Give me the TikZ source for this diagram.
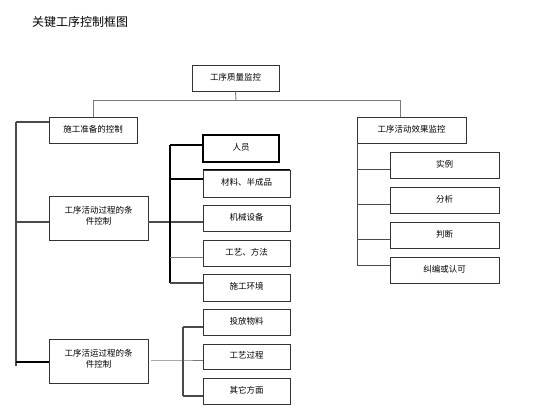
\documentclass[tikz,border=0pt]{standalone}
\usepackage{fontspec}
\setmainfont{Noto Sans CJK SC}
\usetikzlibrary{calc}
\definecolor{boxc}{HTML}{333333}
\definecolor{linec}{HTML}{7A7A7A}
\definecolor{darkc}{HTML}{4A4A4A}
\begin{document}
\begin{tikzpicture}[x=1pt,y=-1pt,
  box/.style={draw=boxc, line width=0.7pt, inner sep=0pt, font=\fontsize{8.5}{11}\selectfont, align=center, text depth=2.5pt},
  gline/.style={draw=linec, line width=0.9pt},
  dline/.style={draw=darkc, line width=1.1pt},
  bline/.style={draw=black, line width=1.5pt},
]
\useasboundingbox (0,0) rectangle (533,419);
\node[font=\fontsize{12}{14}\selectfont] (title) at (80,22) {关键工序控制框图};

% boxes
\node[box, minimum width=87pt, minimum height=26pt] (top) at (235.5,78) {工序质量监控};
\node[box, minimum width=88pt, minimum height=26pt] (prep) at (93,130) {施工准备的控制};
\node[box, minimum width=109pt, minimum height=26pt] (eff) at (411.5,130) {工序活动效果监控};
\node[box, minimum width=99pt, minimum height=44pt, text depth=6pt] (proc) at (98.5,218) {工序活动过程的条\\件控制};
\node[box, minimum width=99pt, minimum height=44pt, text depth=6pt] (run) at (98.5,361) {工序活运过程的条\\件控制};

\node[box, draw=black, line width=1.5pt, minimum width=76pt, minimum height=27pt] (renyuan) at (241,148.5) {人员};
\node[box, minimum width=87pt, minimum height=27pt] (cailiao) at (246.5,183.5) {材料、半成品};
\node[box, minimum width=87pt, minimum height=26pt] (jixie) at (246.5,218) {机械设备};
\node[box, minimum width=87pt, minimum height=26pt] (gongyi) at (246.5,253) {工艺、方法};
\node[box, minimum width=87pt, minimum height=27pt] (huanjing) at (246.5,287.5) {施工环境};
\node[box, minimum width=87pt, minimum height=26pt] (toufang) at (246.5,322) {投放物料};
\node[box, minimum width=87pt, minimum height=25pt] (guocheng) at (246.5,356.5) {工艺过程};
\node[box, minimum width=87pt, minimum height=26pt] (qita) at (246.5,391) {其它方面};

\node[box, minimum width=109pt, minimum height=26pt] (shili) at (444.5,165) {实例};
\node[box, minimum width=109pt, minimum height=26pt] (fenxi) at (444.5,200) {分析};
\node[box, minimum width=109pt, minimum height=26pt] (panduan) at (444.5,235) {判断};
\node[box, minimum width=109pt, minimum height=26pt] (jiupian) at (444.5,270) {纠编或认可};
\draw[black, line width=1.5pt] (cailiao.north west) -- (cailiao.north east);

% top tree
\coordinate (tj) at (236,100);
\coordinate (ta) at (93,100);
\coordinate (tb) at (400,100);
\coordinate (tbe) at (400,117);
\draw[gline] (top.south) -- (tj);
\draw[gline] (prep.north) -- (ta) -- (tb) -- (tbe);

% left spine
\coordinate (l1) at (16,122);
\coordinate (l2) at (16,222);
\coordinate (l3) at (16,366);
\coordinate (l3b) at (16,362);
\draw[dline] (l1) -- (l3);
\draw[dline] (l1) -- (l1 -| prep.west);
\draw[dline] (l2) -- (l2 -| proc.west);
\draw[bline] (l3b) -- (l3b -| run.west);

% middle bus
\coordinate (m0) at (170,222);
\coordinate (m1) at (170,145);
\coordinate (m2) at (170,179);
\coordinate (m4) at (170,257);
\coordinate (m5) at (170,283);
\draw[dline] (m0 -| proc.east) -- (m0) -- (m0 -| jixie.west);
\draw[bline] (m1) -- (m5);
\draw[bline] (m1) -- (m1 -| renyuan.west);
\draw[bline] (m2) -- (m2 -| cailiao.west);
\draw[gline] (m4) -- (m4 -| gongyi.west);
\draw[dline] (m5) -- (m5 -| huanjing.west);

% bottom bus
\coordinate (b0) at (183,360);
\coordinate (b1) at (183,327);
\coordinate (b3) at (183,396);
\draw[gline] ($(b0 -| run.east)+(3,0)$) -- (b0) -- (b0 -| guocheng.west);
\draw[dline] (b1) -- (b3);
\draw[dline] (b1) -- (b1 -| toufang.west);
\draw[dline] (b3) -- (b3 -| qita.west);

% right tree
\coordinate (r0) at (357,143);
\coordinate (r1) at (357,169);
\coordinate (r2) at (357,204);
\coordinate (r3) at (357,239);
\coordinate (r4) at (357,265);
\draw[dline, line width=0.9pt] (r0) -- (r4);
\draw[dline, line width=0.9pt] (r1) -- (r1 -| shili.west);
\draw[dline, line width=0.9pt] (r2) -- (r2 -| fenxi.west);
\draw[dline, line width=0.9pt] (r3) -- (r3 -| panduan.west);
\draw[dline, line width=0.9pt] (r4) -- (r4 -| jiupian.west);
\end{tikzpicture}
\end{document}
